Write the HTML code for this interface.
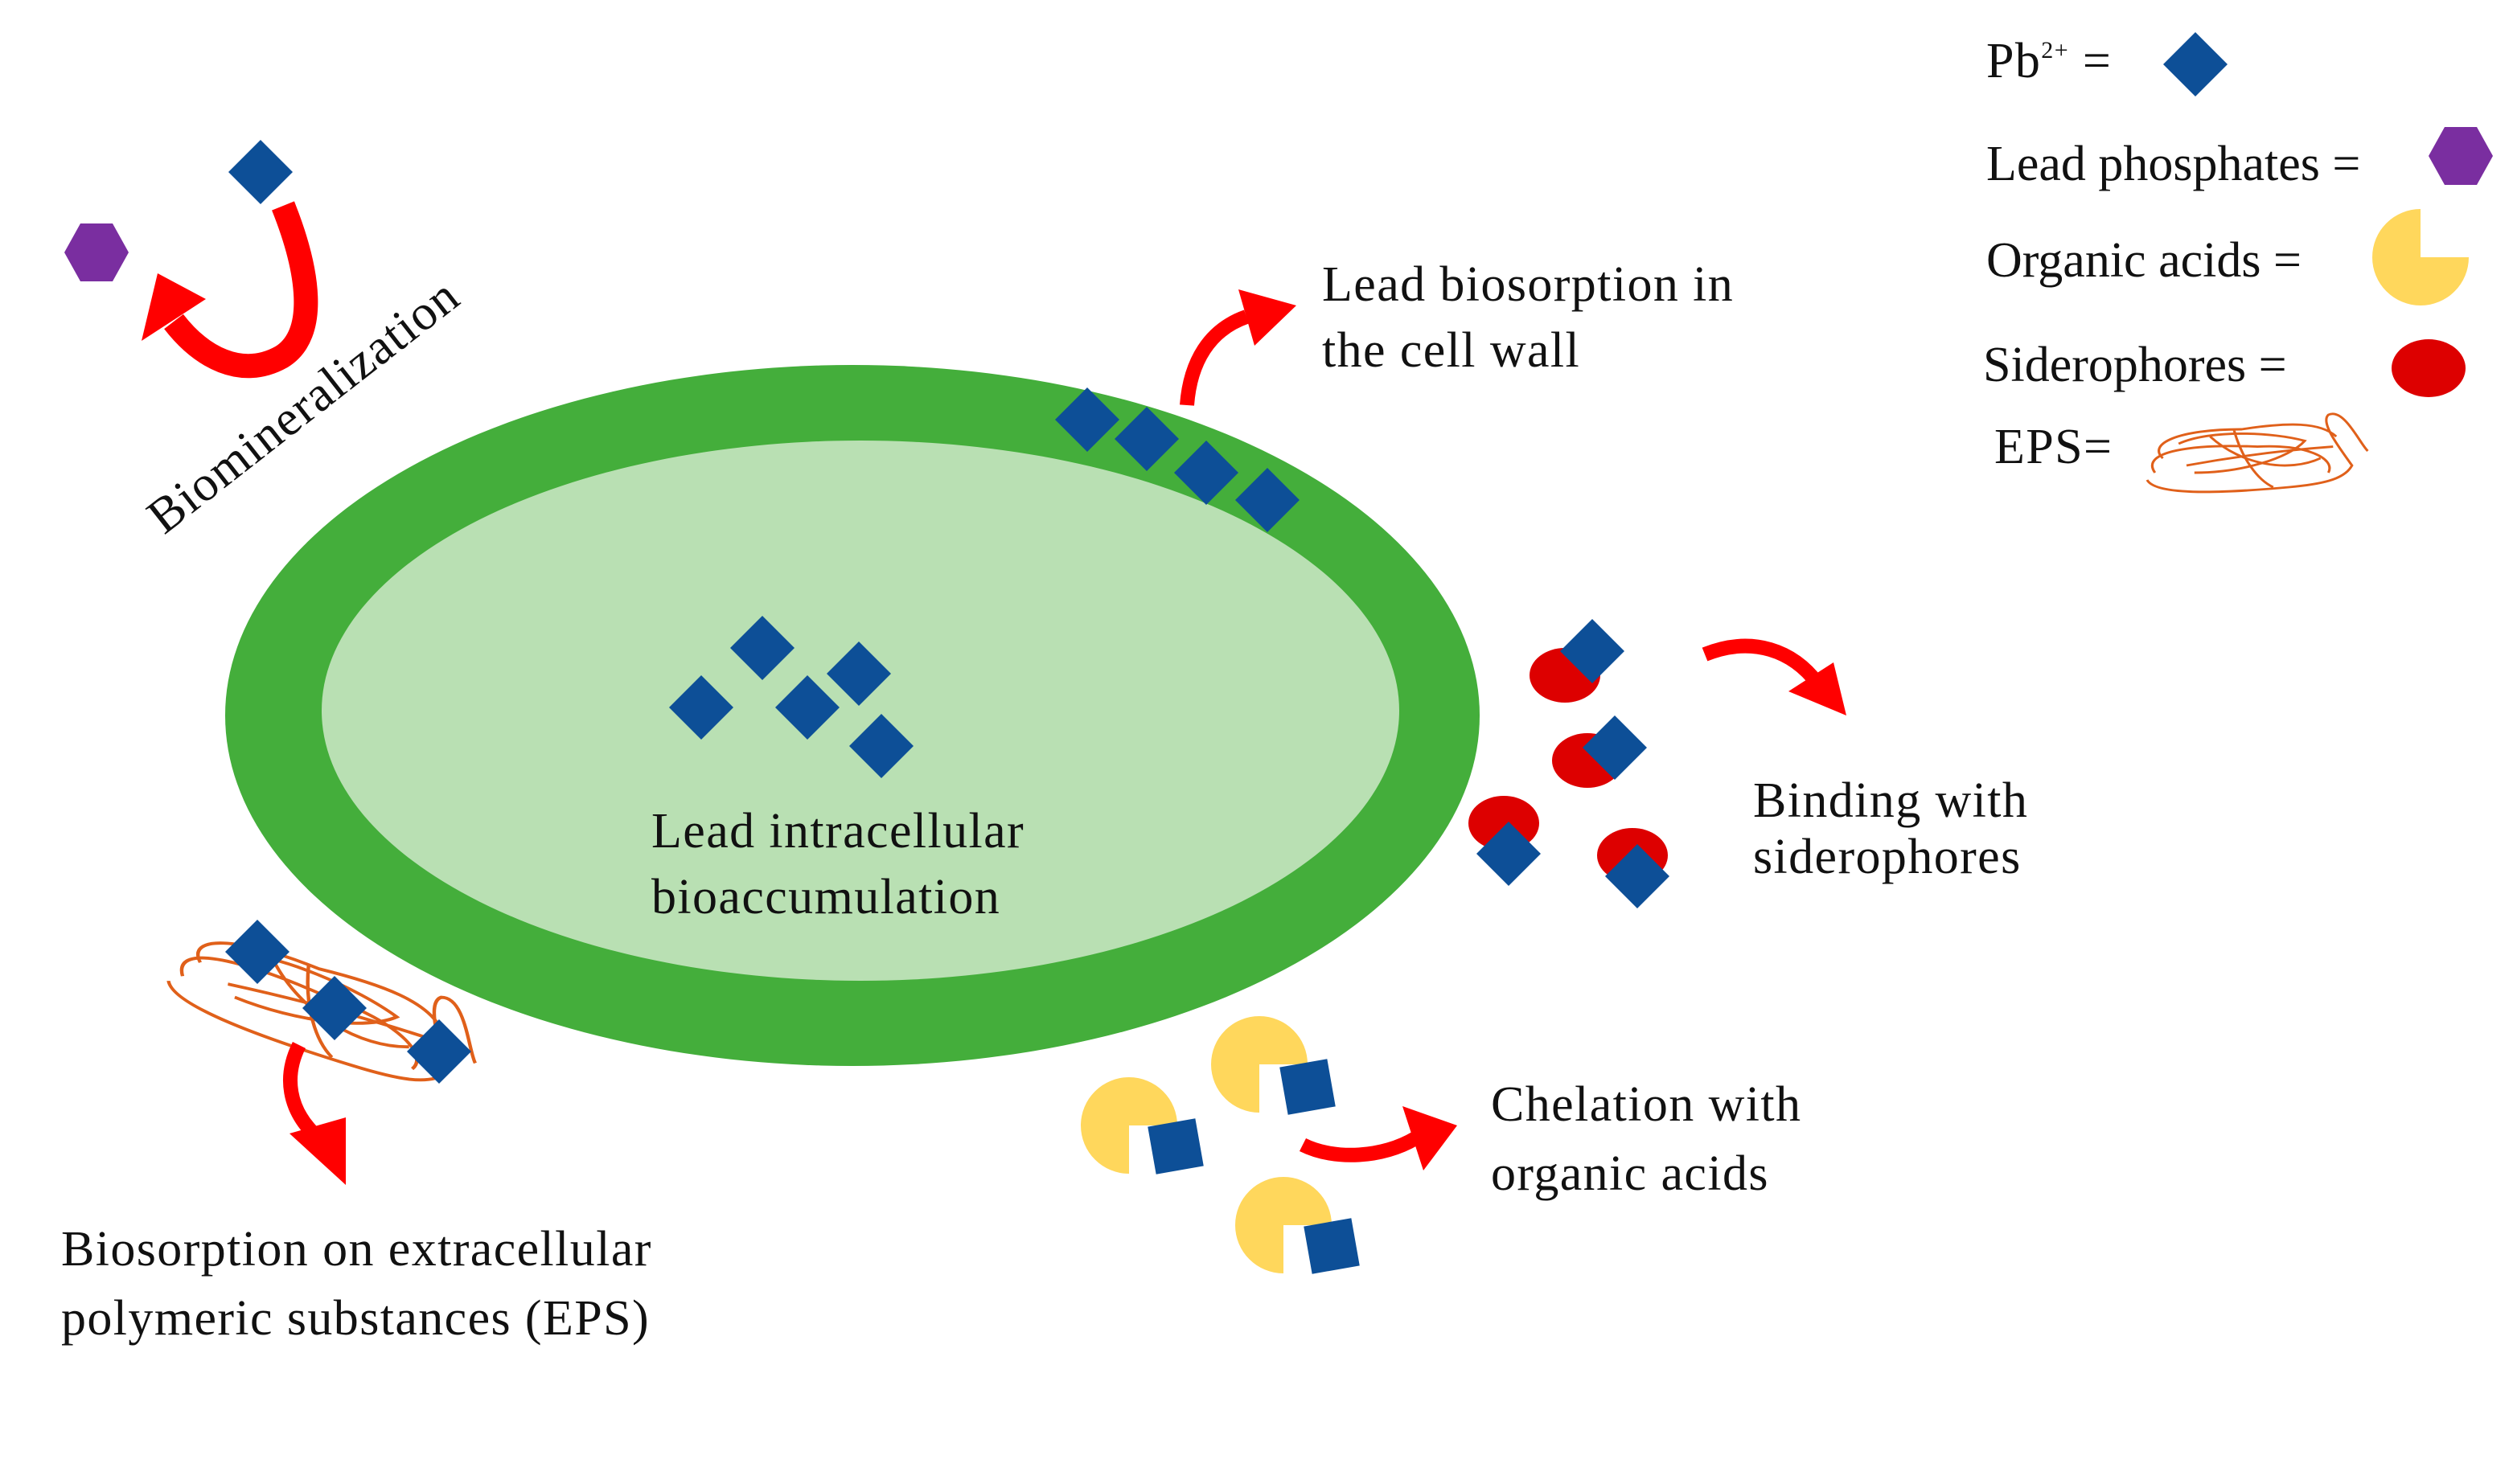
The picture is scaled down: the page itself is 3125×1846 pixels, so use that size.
<!DOCTYPE html>
<html><head><meta charset="utf-8"><style>
html,body{margin:0;padding:0;background:#fff}
svg{display:block}
text{font-family:"Liberation Serif",serif;font-size:31px;letter-spacing:0.7px;fill:#111}
.lg{letter-spacing:0px}
</style></head><body>
<svg width="3125" height="1846" viewBox="0 0 1562.5 923" xmlns="http://www.w3.org/2000/svg">
<defs>
<polygon id="d" points="0,-20 20,0 0,20 -20,0" fill="#0d4f97"/>
<polygon id="hx" points="-20,0 -10,-18 10,-18 20,0 10,18 -10,18" fill="#7a2ea0"/>
<path id="pac" d="M0,0 L0,-30 A30,30 0 1 0 30,0 Z" fill="#ffd75c"/>
<path id="pacLR" d="M0,0 L30,0 A30,30 0 1 0 0,30 Z" fill="#ffd75c"/>
<g id="eps" fill="none" stroke="#e0601a" stroke-width="1.6">
<path d="M10,30 C0,20 20,10 60,10 C90,5 110,5 120,15 M5,40 C-5,25 30,20 70,22 C100,20 120,30 115,40 M0,45 C5,55 40,55 90,50 C110,48 125,45 130,35 C120,20 110,5 115,0 C125,-5 135,20 140,25 M20,20 C40,10 80,12 100,18 C90,30 60,40 30,40 M40,15 C60,35 90,40 110,30 M55,10 C60,30 70,45 80,50 M25,35 C50,30 80,25 118,22"/>
</g>
</defs>
<rect width="1562.5" height="923" fill="#fff"/>

<ellipse cx="530" cy="445" rx="390" ry="218" fill="#44ae3b"/>
<ellipse cx="535" cy="442" rx="335" ry="168" fill="#b9e0b3"/>

<use href="#d" x="162" y="107"/>
<use href="#hx" x="60" y="157"/>
<path d="M176,128 C192,168 198,208 175,222 C150,236 125,222 108,200" fill="none" stroke="#f00" stroke-width="15"/>
<polygon points="88,212 98,170 128,186" fill="#f00"/>
<text transform="translate(102,333) rotate(-38)">Biomineralization</text>

<use href="#d" x="676" y="261"/>
<use href="#d" x="713" y="273"/>
<use href="#d" x="750" y="294"/>
<use href="#d" x="788" y="311"/>
<path d="M738,252 C740,225 752,205 775,197" fill="none" stroke="#f00" stroke-width="9"/>
<polygon points="806,190 770,180 780,215" fill="#f00"/>
<text x="822" y="187">Lead biosorption in</text>
<text x="822" y="228">the cell wall</text>

<use href="#d" x="474" y="403"/>
<use href="#d" x="534" y="419"/>
<use href="#d" x="436" y="440"/>
<use href="#d" x="502" y="440"/>
<use href="#d" x="548" y="464"/>
<text x="405" y="527">Lead intracellular</text>
<text x="405" y="568">bioaccumulation</text>

<ellipse cx="973" cy="420" rx="22" ry="17" fill="#dd0000"/>
<ellipse cx="987" cy="473" rx="22" ry="17" fill="#dd0000"/>
<ellipse cx="935" cy="512" rx="22" ry="17" fill="#dd0000"/>
<ellipse cx="1015" cy="532" rx="22" ry="17" fill="#dd0000"/>
<use href="#d" x="990" y="405"/>
<use href="#d" x="1004" y="465"/>
<use href="#d" x="938" y="531"/>
<use href="#d" x="1018" y="545"/>
<path d="M1060,407 C1090,395 1115,405 1130,425" fill="none" stroke="#f00" stroke-width="9"/>
<polygon points="1148,445 1140,412 1112,430" fill="#f00"/>
<text x="1090" y="508">Binding with</text>
<text x="1090" y="543">siderophores</text>

<use href="#pacLR" x="702" y="700"/>
<use href="#pacLR" x="783" y="662"/>
<use href="#pacLR" x="798" y="762"/>
<rect x="716" y="698" width="30" height="30" fill="#0d4f97" transform="rotate(-10 731 713)"/>
<rect x="798" y="661" width="30" height="30" fill="#0d4f97" transform="rotate(-10 813 676)"/>
<rect x="813" y="760" width="30" height="30" fill="#0d4f97" transform="rotate(-10 828 775)"/>
<path d="M810,712 C830,722 860,720 880,708" fill="none" stroke="#f00" stroke-width="9"/>
<polygon points="906,700 872,688 885,728" fill="#f00"/>
<text x="927" y="697">Chelation with</text>
<text x="927" y="740">organic acids</text>

<g transform="translate(125,560) rotate(22) scale(1.4,1.2)"><use href="#eps"/></g>
<use href="#d" x="160" y="592"/>
<use href="#d" x="208" y="627"/>
<use href="#d" x="273" y="654"/>
<path d="M186,650 C176,670 180,690 195,705" fill="none" stroke="#f00" stroke-width="9"/>
<polygon points="215,737 180,705 215,695" fill="#f00"/>
<text x="38" y="787">Biosorption on extracellular</text>
<text x="38" y="830">polymeric substances (EPS)</text>

<text x="1235" y="48">Pb<tspan font-size="15" dy="-12">2+</tspan><tspan dy="12"> =</tspan></text>
<use href="#d" x="1365" y="40"/>
<text class="lg" x="1235" y="112">Lead phosphates =</text>
<use href="#hx" x="1530" y="97"/>
<text class="lg" x="1235" y="172">Organic acids =</text>
<use href="#pac" x="1505" y="160"/>
<text class="lg" x="1233" y="237">Siderophores =</text>
<ellipse cx="1510" cy="229" rx="23" ry="18" fill="#dd0000"/>
<text x="1240" y="288">EPS=</text>
<g transform="translate(1335,258) scale(0.98,0.9)"><use href="#eps"/></g>
</svg>
</body></html>
